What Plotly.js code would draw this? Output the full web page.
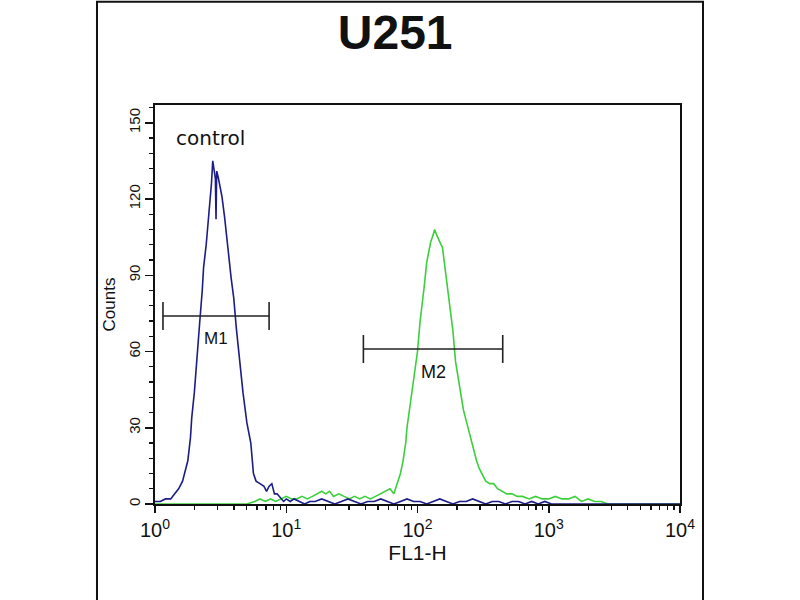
<!DOCTYPE html>
<html>
<head>
<meta charset="utf-8">
<script src="https://cdn.plot.ly/plotly-3.0.1.min.js"></script>
<style>
  html, body { margin: 0; padding: 0; background: #fff; }
  #chart { width: 800px; height: 600px; }
</style>
</head>
<body>
<div id="chart"></div>
<script>
// ---- data (FL1-H decade exponent, counts) ----
const controlLog = [0.00,0.04,0.08,0.12,0.15,0.18,0.21,0.23,0.25,0.27,0.28,0.30,0.31,0.33,0.34,0.36,0.37,0.39,0.40,0.42,0.43,0.44,0.45,0.46,0.465,0.47,0.48,0.49,0.50,0.51,0.53,0.55,0.56,0.58,0.60,0.61,0.62,0.63,0.65,0.67,0.70,0.73,0.75,0.77,0.80,0.83,0.85,0.87,0.89,0.91,0.93,0.96,0.98,1.00,1.03,1.06,1.10,1.14,1.18,1.22,1.27,1.32,1.37,1.42,1.47,1.52,1.57,1.62,1.67,1.72,1.77,1.82,1.87,1.92,1.97,2.02,2.07,2.12,2.17,2.22,2.27,2.32,2.37,2.42,2.47,2.52,2.57,2.62,2.67,2.72,2.77,2.82,2.87,2.92,2.97,3.02,3.10,3.30,3.60,4.00];
const controlCounts = [1,1,2,2,4,6,9,13,17,26,34,44,50,62,71,84,93,102,108,119,126,135,131,128,112,131,129,126,124,121,113,103,97,89,81,73,69,64,54,44,32,24,12,9,8,7,5,7,8,4,4,2,1,2,1,2,1,0,1,1,2,1,0,1,2,1,0,1,1,2,1,0,1,2,1,1,0,1,2,1,0,1,1,2,1,0,1,1,0,1,1,0,1,0,1,0,0,0,0,0];

const sampleLog = [0.00,0.50,0.70,0.76,0.80,0.84,0.88,0.92,0.96,1.00,1.04,1.08,1.12,1.16,1.20,1.24,1.27,1.30,1.33,1.36,1.40,1.44,1.48,1.52,1.56,1.60,1.64,1.68,1.72,1.76,1.79,1.82,1.85,1.87,1.89,1.91,1.92,1.94,1.96,1.98,2.00,2.02,2.04,2.05,2.07,2.09,2.10,2.12,2.13,2.145,2.16,2.18,2.19,2.21,2.23,2.24,2.26,2.27,2.29,2.31,2.33,2.35,2.37,2.40,2.42,2.45,2.47,2.50,2.52,2.55,2.58,2.61,2.64,2.68,2.72,2.76,2.80,2.85,2.90,2.95,3.00,3.05,3.10,3.15,3.20,3.25,3.30,3.35,3.40,3.45,3.60,4.00];
const sampleCounts = [0,0,0,1,2,1,2,1,2,3,2,2,3,2,3,4,5,4,5,3,4,3,2,3,2,3,2,3,4,5,6,4,9,12,17,24,30,38,46,53,60,72,80,85,95,100,103,106,108,106,104,102,101,93,86,81,73,68,56,49,43,37,33,27,22,17,14,11,9,8,8,6,5,4,4,3,3,2,3,2,2,3,2,2,3,1,2,1,1,0,0,0];

// gates
const m1Range = [1.15, 7.4];
const m1Level = 74;
const m2Range = [38.7, 446];
const m2Level = 61;

const xTickVals = [1, 10, 100, 1000, 10000];
const xTickText = ['10<sup>0</sup>', '10<sup>1</sup>', '10<sup>2</sup>', '10<sup>3</sup>', '10<sup>4</sup>'];
const xMinorVals = [];
[1, 10, 100, 1000].forEach(d => { for (let k = 2; k <= 9; k++) xMinorVals.push(d * k); });

const toLin = a => a.map(v => Math.pow(10, v));

const font = 'Liberation Sans, Arial, sans-serif';
const narrow = 'Liberation Sans Narrow, Arial Narrow, Liberation Sans, sans-serif';

const traces = [
  {
    x: toLin(sampleLog), y: sampleCounts, mode: 'lines', type: 'scatter',
    line: { color: '#3ccf3c', width: 1.6 }, hoverinfo: 'skip'
  },
  {
    x: toLin(controlLog), y: controlCounts, mode: 'lines', type: 'scatter',
    line: { color: '#1c1c86', width: 1.6 }, hoverinfo: 'skip'
  },
  {
    x: m1Range, y: [m1Level, m1Level], mode: 'lines+markers', type: 'scatter',
    line: { color: '#222', width: 1.6 },
    marker: { symbol: 'line-ns', size: 20, line: { color: '#222', width: 1.6 } },
    hoverinfo: 'skip'
  },
  {
    x: m2Range, y: [m2Level, m2Level], mode: 'lines+markers', type: 'scatter',
    line: { color: '#222', width: 1.6 },
    marker: { symbol: 'line-ns', size: 20, line: { color: '#222', width: 1.6 } },
    hoverinfo: 'skip'
  }
];

const logMid = r => (Math.log10(r[0]) + Math.log10(r[1])) / 2;

const layout = {
  width: 800, height: 600,
  paper_bgcolor: '#ffffff', plot_bgcolor: '#ffffff',
  showlegend: false,
  margin: { l: 155, r: 120, t: 105, b: 96 },
  title: {
    text: '<b>U251</b>', x: 0.494, xanchor: 'center', y: 0.947, yanchor: 'middle',
    font: { family: font, size: 48, color: '#111' }
  },
  xaxis: {
    type: 'log', range: [0, 4],
    tickmode: 'array', tickvals: xTickVals, ticktext: xTickText,
    ticks: 'outside', ticklen: 7, tickwidth: 1.5, tickcolor: '#111',
    minor: { tickmode: 'array', tickvals: xMinorVals, ticks: 'outside', ticklen: 4, tickwidth: 1.3, tickcolor: '#111', showgrid: false },
    showgrid: false, zeroline: false,
    showline: true, linecolor: '#111', linewidth: 2, mirror: true,
    tickfont: { family: narrow, size: 20, color: '#111' },
    title: { text: 'FL1-H', standoff: 1, font: { family: narrow, size: 21, color: '#111' } }
  },
  yaxis: {
    range: [0, 157],
    tickmode: 'linear', tick0: 0, dtick: 30,
    tickangle: -90,
    ticks: 'outside', ticklen: 8, tickwidth: 1.5, tickcolor: '#111',
    ticklabelstandoff: -1,
    minor: { dtick: 6, ticks: 'outside', ticklen: 4, tickwidth: 1.3, tickcolor: '#111', showgrid: false },
    showgrid: false, zeroline: false,
    showline: true, linecolor: '#111', linewidth: 2, mirror: true,
    tickfont: { family: narrow, size: 15, color: '#111' },
    title: { text: 'Counts', standoff: 6, font: { family: font, size: 17, color: '#111' } }
  },
  annotations: [
    { xref: 'paper', yref: 'paper', x: 0.105, y: 0.917, text: 'control', showarrow: false,
      xanchor: 'center', yanchor: 'middle', font: { family: 'DejaVu Sans, sans-serif', size: 20, color: '#111' } },
    { xref: 'x', yref: 'y', x: logMid(m1Range), y: m1Level, text: 'M1', showarrow: false,
      xanchor: 'center', yanchor: 'top', yshift: -11, font: { family: font, size: 17, color: '#111' } },
    { xref: 'x', yref: 'y', x: logMid(m2Range), y: m2Level, text: 'M2', showarrow: false,
      xanchor: 'center', yanchor: 'top', yshift: -11, font: { family: font, size: 18, color: '#111' } }
  ],
  shapes: [
    { type: 'rect', xref: 'paper', yref: 'paper', x0: -0.1105, x1: 1.0438, y0: -0.3, y1: 1.2585,
      line: { color: '#111', width: 2 }, fillcolor: 'rgba(0,0,0,0)' }
  ]
};

Plotly.newPlot('chart', traces, layout, { staticPlot: true });
</script>
</body>
</html>
